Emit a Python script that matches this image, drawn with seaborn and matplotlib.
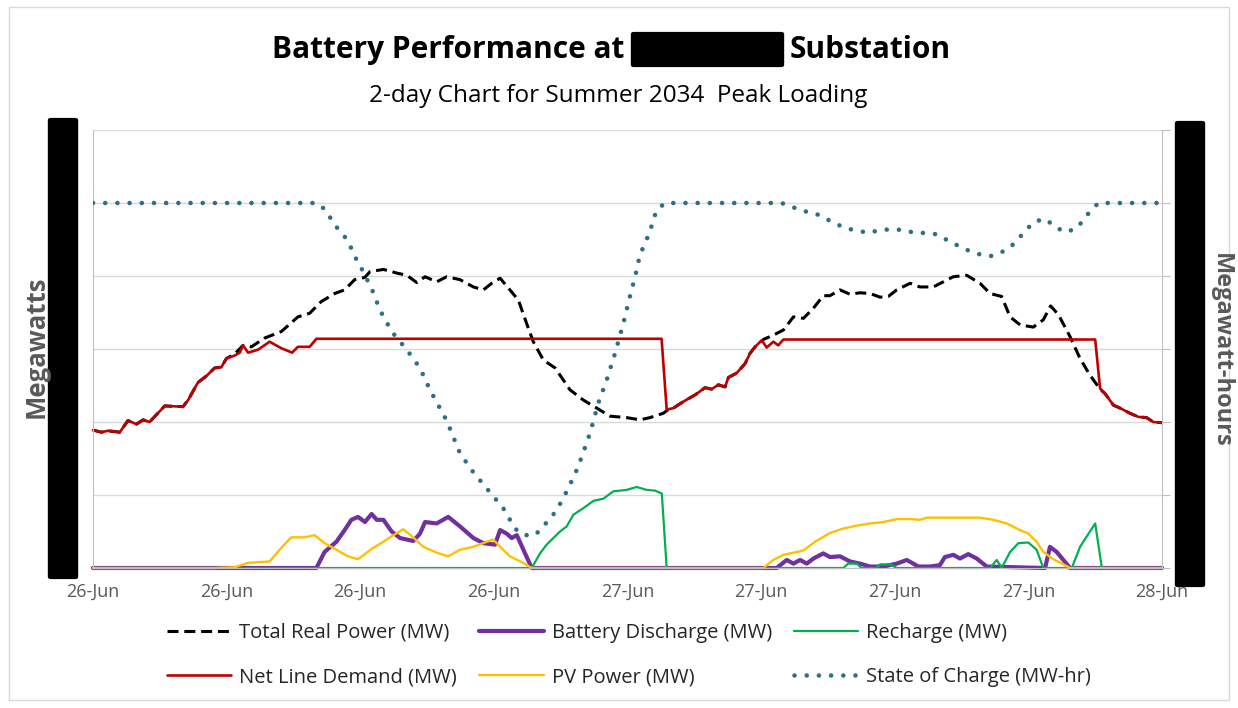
import matplotlib.pyplot as plt
import matplotlib.patches as mpatches
from matplotlib.lines import Line2D
import numpy as np
import pandas as pd
import seaborn as sns

# hours from the start of 26-Jun, values in gridline units
tick_hours = [0, 6, 12, 18, 24, 30, 36, 42, 48]
tick_labels = ["26-Jun", "26-Jun", "26-Jun", "26-Jun", "27-Jun",
               "27-Jun", "27-Jun", "27-Jun", "28-Jun"]

total_hours = [0, 0.37, 0.67, 1.2, 1.57, 1.95, 2.25, 2.54, 3.22, 4.04,
               4.27, 4.71, 5.09, 5.46, 5.76, 5.99, 6.36, 6.74, 7.11, 7.71,
               8.46, 9.2, 9.73, 10.25, 10.85, 11.3, 11.75, 12.2, 12.44, 13.04,
               13.64, 14.09, 14.54, 14.91, 15.43, 15.88, 16.48, 17.08, 17.53, 17.9,
               18.28, 18.72, 19.1, 19.47, 19.77, 20.22, 20.75, 21.42, 22.02, 22.62,
               23.21, 23.96, 24.56, 25.01, 25.61, 25.83, 26.06, 26.51, 27.03, 27.48,
               27.78, 28.08, 28.38, 28.53, 28.9, 29.28, 29.5, 29.73, 30.1, 30.55,
               31.0, 31.45, 31.9, 32.35, 32.79, 33.09, 33.54, 33.99, 34.44, 34.89,
               35.34, 35.71, 36.09, 36.69, 37.13, 37.73, 38.18, 38.63, 39.23, 39.83,
               40.28, 40.8, 41.18, 41.63, 42.22, 42.67, 43.0, 43.35, 43.87, 44.32,
               44.77, 45.22, 45.44, 45.82, 46.12, 46.56, 46.94, 47.31, 47.61, 48.0]
total_mw = [1.89, 1.86, 1.88, 1.86, 2.02, 1.97, 2.03, 2.00, 2.22, 2.21,
            2.30, 2.54, 2.63, 2.74, 2.75, 2.87, 2.93, 3.05, 3.03, 3.15,
            3.24, 3.44, 3.49, 3.65, 3.76, 3.81, 3.95, 3.98, 4.06, 4.09,
            4.04, 4.01, 3.91, 3.99, 3.92, 3.99, 3.95, 3.85, 3.81, 3.90,
            3.97, 3.81, 3.67, 3.35, 3.10, 2.85, 2.74, 2.44, 2.30, 2.19,
            2.08, 2.06, 2.03, 2.06, 2.12, 2.17, 2.19, 2.28, 2.37, 2.47,
            2.45, 2.51, 2.48, 2.61, 2.67, 2.80, 2.94, 3.03, 3.13, 3.19,
            3.26, 3.44, 3.42, 3.56, 3.73, 3.73, 3.81, 3.75, 3.77, 3.76,
            3.71, 3.72, 3.81, 3.90, 3.85, 3.85, 3.92, 3.99, 4.01, 3.90,
            3.76, 3.72, 3.44, 3.33, 3.30, 3.40, 3.59, 3.47, 3.17, 2.87,
            2.64, 2.45, 2.39, 2.23, 2.19, 2.12, 2.07, 2.06, 2.00, 1.99]

net_hours = [0, 0.37, 0.67, 1.2, 1.57, 1.95, 2.25, 2.54, 3.22, 4.04,
             4.27, 4.71, 5.09, 5.46, 5.76, 5.99, 6.36, 6.59, 6.74, 6.96,
             7.41, 7.93, 8.46, 8.94, 9.2, 9.73, 10.03, 25.53, 25.76, 26.06,
             26.51, 27.03, 27.48, 27.78, 28.08, 28.38, 28.53, 28.9, 29.28, 29.5,
             29.73, 30.03, 30.25, 30.55, 30.77, 31.0, 45.0, 45.22, 45.44, 45.82,
             46.12, 46.56, 46.94, 47.31, 47.61, 48.0]
net_mw = [1.89, 1.86, 1.88, 1.86, 2.02, 1.97, 2.03, 2.00, 2.22, 2.21,
          2.30, 2.54, 2.63, 2.74, 2.75, 2.87, 2.91, 2.95, 3.05, 2.95,
          2.99, 3.10, 3.01, 2.95, 3.03, 3.03, 3.14, 3.14, 2.17, 2.19,
          2.28, 2.37, 2.47, 2.45, 2.51, 2.48, 2.61, 2.67, 2.80, 2.94,
          3.03, 3.12, 3.02, 3.10, 3.05, 3.13, 3.13, 2.46, 2.39, 2.23,
          2.19, 2.12, 2.07, 2.06, 2.00, 1.99]

dis_hours = [0, 10.03, 10.4, 10.93, 11.3, 11.6, 11.9, 12.21, 12.51, 12.74,
             13.04, 13.41, 13.79, 14.38, 14.68, 14.91, 15.43, 15.95, 16.48, 17.08,
             17.53, 18.05, 18.28, 18.58, 18.8, 19.03, 19.4, 19.7, 30.7, 31.15,
             31.45, 31.75, 32.05, 32.35, 32.79, 33.09, 33.54, 33.99, 34.44, 34.89,
             35.49, 36.09, 36.54, 37.06, 37.58, 38.03, 38.25, 38.63, 38.93, 39.3,
             39.68, 40.13, 42.75, 42.97, 43.27, 43.57, 43.87, 48.0]
dis_mw = [0, 0, 0.22, 0.36, 0.52, 0.66, 0.70, 0.63, 0.74, 0.66,
          0.66, 0.50, 0.41, 0.37, 0.47, 0.63, 0.61, 0.70, 0.57, 0.41,
          0.34, 0.32, 0.52, 0.47, 0.41, 0.45, 0.20, 0, 0, 0.11,
          0.06, 0.11, 0.06, 0.13, 0.20, 0.15, 0.16, 0.09, 0.06, 0.02,
          0.02, 0.06, 0.11, 0.02, 0.02, 0.04, 0.15, 0.18, 0.13, 0.19,
          0.13, 0.02, 0, 0.29, 0.22, 0.11, 0, 0]

rch_hours = [0, 19.7, 20.07, 20.37, 20.97, 21.27, 21.57, 22.02, 22.47, 22.92,
             23.36, 23.96, 24.41, 24.86, 25.24, 25.54, 25.76, 33.7, 33.9, 34.3,
             34.5, 35.19, 35.34, 35.79, 36.09, 40.28, 40.58, 40.8, 41.18, 41.55,
             42.0, 42.37, 42.67, 43.95, 44.32, 44.7, 45.0, 45.3, 48.0]
rch_mw = [0, 0, 0.20, 0.32, 0.50, 0.57, 0.73, 0.82, 0.92, 0.95,
          1.05, 1.07, 1.11, 1.07, 1.06, 1.02, 0, 0, 0.06, 0.06,
          0, 0, 0.05, 0.05, 0, 0, 0.11, 0, 0.22, 0.34,
          0.35, 0.25, 0, 0, 0.29, 0.47, 0.61, 0, 0]

pv_hours = [0, 5.46, 6.36, 6.96, 7.93, 8.38, 8.9, 9.5, 9.95, 10.4,
            10.93, 11.45, 11.9, 12.51, 13.04, 13.49, 13.93, 14.38, 14.83, 15.43,
            15.95, 16.48, 17.08, 17.6, 17.97, 18.35, 18.72, 19.32, 19.7, 30.1,
            30.55, 31.0, 31.9, 32.42, 33.09, 33.69, 34.29, 34.89, 35.49, 36.09,
            36.69, 37.13, 37.44, 38.48, 39.83, 40.43, 41.03, 41.55, 42.0, 42.37,
            42.67, 43.12, 43.57, 43.87, 48.0]
pv_mw = [0, 0, 0.01, 0.07, 0.09, 0.25, 0.42, 0.42, 0.45, 0.34,
         0.25, 0.16, 0.12, 0.26, 0.36, 0.45, 0.53, 0.42, 0.29, 0.21,
         0.16, 0.25, 0.29, 0.35, 0.39, 0.27, 0.16, 0.07, 0, 0,
         0.11, 0.18, 0.24, 0.36, 0.48, 0.54, 0.58, 0.61, 0.63, 0.67,
         0.67, 0.66, 0.69, 0.69, 0.69, 0.66, 0.61, 0.53, 0.47, 0.36,
         0.22, 0.12, 0.05, 0, 0]

soc_hours = [0, 10.03, 10.43, 10.85, 11.3, 11.6, 11.82, 12.06, 12.51, 12.89,
             13.41, 14.09, 14.68, 15.13, 15.88, 16.48, 17.08, 17.68, 18.42, 18.95,
             19.32, 19.85, 20.22, 20.82, 21.34, 21.79, 22.32, 22.69, 23.07, 23.44,
             23.81, 24.11, 24.34, 24.56, 24.79, 25.01, 25.16, 25.31, 25.68, 30.92,
             31.45, 31.9, 32.42, 33.32, 33.84, 34.37, 34.81, 35.34, 35.86, 36.39,
             36.91, 37.44, 37.91, 38.36, 38.81, 39.3, 39.78, 40.28, 40.76, 41.21,
             41.58, 41.92, 42.3, 42.78, 43.2, 43.68, 44.13, 44.47, 44.77, 45.15,
             48.0]
soc_mwh = [5.0, 5.0, 4.91, 4.70, 4.54, 4.38, 4.23, 4.10, 3.83, 3.53,
           3.24, 2.99, 2.74, 2.44, 2.02, 1.57, 1.31, 1.09, 0.82, 0.54,
           0.45, 0.45, 0.57, 0.79, 1.09, 1.39, 1.85, 2.26, 2.58, 2.94,
           3.35, 3.72, 3.99, 4.29, 4.45, 4.61, 4.77, 4.90, 5.0, 5.0,
           4.94, 4.89, 4.86, 4.72, 4.65, 4.62, 4.59, 4.63, 4.64, 4.63,
           4.59, 4.59, 4.57, 4.49, 4.42, 4.35, 4.30, 4.27, 4.32, 4.40,
           4.52, 4.64, 4.75, 4.78, 4.67, 4.60, 4.65, 4.76, 4.89, 5.0,
           5.0]

sns.set_style("white")
plt.rcParams["font.family"] = ["Open Sans", "DejaVu Sans"]

W, H = 1238, 708
fig = plt.figure(figsize=(W / 100, H / 100), dpi=100)
ax = fig.add_axes([93 / W, 1 - 568 / H, (1162 - 93) / W, (568 - 130) / H])

BLACK, PURPLE, GREEN = "#000000", "#7030A0", "#00B050"
RED, YELLOW, TEAL = "#C00000", "#FFC000", "#2F6F83"
DASH = (0, (3.6, 1.9))
DOT = (0, (0.01, 2.65))

# Excel draw order: total, discharge, recharge, net, pv
sns.lineplot(x=total_hours, y=total_mw, ax=ax, color=BLACK, lw=2.2,
             linestyle=DASH, estimator=None, sort=False, clip_on=False)
sns.lineplot(x=dis_hours, y=dis_mw, ax=ax, color=PURPLE, lw=3.0,
             estimator=None, sort=False, clip_on=False)
sns.lineplot(x=rch_hours, y=rch_mw, ax=ax, color=GREEN, lw=1.6,
             estimator=None, sort=False, clip_on=False)
sns.lineplot(x=net_hours, y=net_mw, ax=ax, color=RED, lw=1.9,
             estimator=None, sort=False, clip_on=False)
sns.lineplot(x=pv_hours, y=pv_mw, ax=ax, color=YELLOW, lw=1.7,
             estimator=None, sort=False, clip_on=False)

ax.set_xlim(0, 48)
ax.set_ylim(0, 6)
ax.set_xticks(tick_hours)
ax.set_xticklabels(tick_labels)
ax.set_yticks(range(7))
ax.set_yticklabels([])
ax.yaxis.grid(True, color="#d9d9d9", lw=1)
ax.set_axisbelow(True)
ax.tick_params(axis="y", length=0)
ax.tick_params(axis="x", direction="in", length=4, color="#bfbfbf",
               labelcolor="#595959", labelsize=13, pad=11)
for s in ["top", "right"]:
    ax.spines[s].set_visible(False)
for s in ["left", "bottom"]:
    ax.spines[s].set_color("#bfbfbf")

ax2 = ax.twinx()
sns.lineplot(x=soc_hours, y=soc_mwh, ax=ax2, color=TEAL, lw=3.3,
             linestyle=DOT, dash_capstyle="round", estimator=None, sort=False)
ax2.set_ylim(0, 6)
ax2.set_yticks(range(7))
ax2.set_yticklabels([])
ax2.set_ylabel("")
ax2.tick_params(axis="y", direction="out", length=6, color="#bfbfbf")
for s in ["top", "left", "bottom"]:
    ax2.spines[s].set_visible(False)
ax2.spines["right"].set_color("#bfbfbf")

# outer chart frame
fig.patches.append(mpatches.Rectangle((9 / W, 1 - 700 / H), 1220 / W, 693 / H,
                                      transform=fig.transFigure, fill=False,
                                      edgecolor="#d9d9d9", lw=1))

# title with redacted name
fig.text(624 / W, 1 - 58 / H, "Battery Performance at", ha="right", va="baseline",
         fontsize=21.5, fontweight="bold", color="black")
fig.patches.append(mpatches.FancyBboxPatch((634 / W, 1 - 65 / H), 147 / W, 31 / H,
                                           boxstyle="round,pad=0.002",
                                           transform=fig.transFigure,
                                           facecolor="black", edgecolor="black"))
fig.text(790 / W, 1 - 58 / H, "Substation", ha="left", va="baseline",
         fontsize=21.5, fontweight="bold", color="black")
fig.text(618 / W, 1 - 102 / H, "2-day Chart for Summer 2034  Peak Loading",
         ha="center", va="baseline", fontsize=17.5, color="black")

# redacted axis tick labels
for x0, y0, y1 in [(51, 120, 577), (1178, 123, 585)]:
    fig.patches.append(mpatches.FancyBboxPatch((x0 / W, 1 - y1 / H), 24 / W, (y1 - y0) / H,
                                               boxstyle="round,pad=0.002",
                                               transform=fig.transFigure,
                                               facecolor="black", edgecolor="black"))

fig.text(36 / W, 1 - 347 / H, "Megawatts", rotation=90, ha="center", va="center",
         fontsize=18.5, fontweight="bold", color="#595959")
fig.text(1221 / W, 1 - 350 / H, "Megawatt-hours", rotation=270, ha="center", va="center",
         fontsize=17, fontweight="bold", color="#595959")

handles = [
    Line2D([], [], color=BLACK, lw=2.2, linestyle=DASH),
    Line2D([], [], color=RED, lw=1.9),
    Line2D([], [], color=PURPLE, lw=3.0),
    Line2D([], [], color=YELLOW, lw=1.7),
    Line2D([], [], color=GREEN, lw=1.6),
    Line2D([], [], color=TEAL, lw=3.3, linestyle=DOT, dash_capstyle="round"),
]
labels = ["Total Real Power (MW)", "Net Line Demand (MW)",
          "Battery Discharge (MW)", "PV Power (MW)",
          "Recharge (MW)", "State of Charge (MW-hr)"]
fig.legend(handles, labels, ncol=3, loc="center", bbox_to_anchor=(629 / W, 1 - 655 / H),
           frameon=False, fontsize=14.5, handlelength=3.2, handletextpad=0.4,
           columnspacing=1.1, labelspacing=1.2, labelcolor="#262626")

fig.savefig("out.png", dpi=100)
